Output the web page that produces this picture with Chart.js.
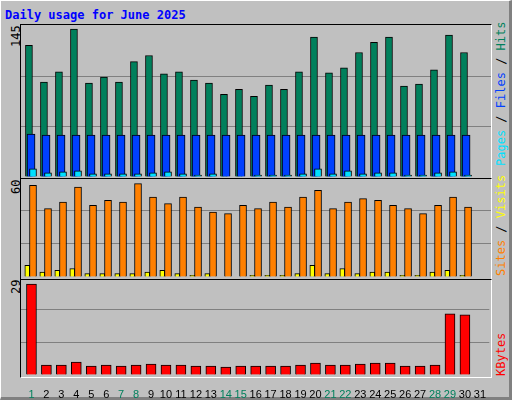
<!DOCTYPE html>
<html><head><meta charset="utf-8">
<script src="https://cdn.jsdelivr.net/npm/chart.js@4"></script>
<style>
body{margin:0;width:512px;height:400px;overflow:hidden;background:#fff}
#f{position:absolute;left:0;top:0;width:508px;height:396px;background:#C0C0C0;border-top:1px solid #fff;border-left:1px solid #fff;border-right:3px solid #808080;border-bottom:3px solid #808080;outline:1px solid #000}
.t{position:absolute;font-family:"DejaVu Sans Mono",monospace;font-size:12px;white-space:nowrap}
.r{transform-origin:0 0;transform:rotate(-90deg)}
.p{position:absolute;left:20px;width:472px;border:1px solid #000;border-right-color:#fff;border-bottom-color:#fff;box-sizing:border-box}
canvas{position:absolute}
</style></head><body>
<div id="f"></div>
<div class="t" style="left:5px;top:8px;color:#0000FF;font-weight:bold">Daily usage for June 2025</div>
<div class="p" style="top:24px;height:155px"></div>
<div class="p" style="top:178px;height:102px"></div>
<div class="p" style="top:279px;height:99px"></div>
<div class="t r" style="left:9px;top:47px">145</div>
<div class="t r" style="left:9px;top:194px">60</div>
<div class="t r" style="left:9px;top:294px">29</div>
<div class="t r" style="left:494px;top:166px"><span style="color:#00E0FF">Pages</span> / <span style="color:#0040FF">Files</span> / <span style="color:#00805C">Hits</span></div>
<div class="t r" style="left:494px;top:276px"><span style="color:#FF8000">Sites</span> / <span style="color:#FFFF00">Visits</span></div>
<div class="t r" style="left:494px;top:376px"><span style="color:#FF0000">KBytes</span></div>
<canvas id="c1" style="left:21px;top:26px;width:470px;height:151px"></canvas>
<canvas id="c2" style="left:21px;top:177px;width:470px;height:100px"></canvas>
<canvas id="c3" style="left:21px;top:276px;width:470px;height:124px"></canvas>
<script>
const days=[1,2,3,4,5,6,7,8,9,10,11,12,13,14,15,16,17,18,19,20,21,22,23,24,25,26,27,28,29,30,31];
const weekend=[1,7,8,14,15,21,22,28,29];
const hits=[129,93,103,145,92,98,93,113,119,101,103,95,92,81,86,79,90,86,103,137,102,107,122,132,137,89,91,105,139,122,0];
const files=[42,41,41,41,41,41,41,41,41,41,41,41,41,41,41,41,41,41,41,41,41,41,41,41,41,41,41,41,41,41,0];
const pages=[8,4,5,6,3,3,3,3,4,5,3,2,3,0,0,2,2,2,3,8,3,6,3,4,4,2,2,4,5,2,0];
const visits=[55,41,45,54,43,46,45,56,48,44,48,42,39,38,43,41,45,42,48,52,41,45,47,46,43,41,38,43,48,42,0];
const sites=[7,3,4,5,2,2,2,2,3,4,2,1,2,0,0,1,1,1,2,7,2,5,2,3,3,1,1,3,4,1,0];
const kbytes=[26.6,2.9,2.9,3.8,2.6,2.9,2.6,2.9,3.2,2.9,2.9,2.6,2.6,2.3,2.6,2.6,2.6,2.6,2.9,3.5,2.9,2.9,3.2,3.5,3.5,2.6,2.6,2.9,17.9,17.6,0];
const maxH=145,maxV=60,maxK=29;
const tickFont={family:'Liberation Sans',size:11};
function ds(vals,off,color,w,order){return{data:vals.map((v,i)=>({x:days[i]+off,y:v})).filter(p=>p.y>0),backgroundColor:color,borderColor:'#000',borderWidth:1,barThickness:w,order:order,grouped:false,borderSkipped:'bottom'};}
function mk(id,sets,max,showX){
 new Chart(document.getElementById(id),{type:'bar',data:{datasets:sets},
 options:{responsive:false,animation:false,events:[],layout:{padding:0},plugins:{legend:{display:false},tooltip:{enabled:false}},
 scales:{x:{type:'linear',min:0.3,max:31.63,offset:false,display:showX,grid:{display:false},border:{display:false},
   afterBuildTicks:a=>{a.ticks=days.map(d=>({value:d}));},afterFit:a=>{if(showX)a.height=25},
   ticks:{autoSkip:false,maxRotation:0,padding:5,font:tickFont,color:c=>weekend.includes(c.tick.value)?'#00805C':'#000',callback:v=>String(v)}},
  y:{min:0,max:max,afterFit:a=>{a.width=0},afterBuildTicks:a=>{a.ticks=[0,max/3,2*max/3,max].map(v=>({value:v}));},
   ticks:{display:false},border:{display:false},grid:{color:c=>(c.index==1||c.index==2)?'#808080':'rgba(0,0,0,0)',lineWidth:1}}}}});
}
const setW=(id,h)=>{const c=document.getElementById(id);c.width=470;c.height=h;};
setW('c1',151);setW('c2',100);setW('c3',124);
mk('c1',[ds(hits,-0.17,'#00805C',7,3),ds(files,-0.03,'#0040FF',8,2),ds(pages,0.1,'#00E0FF',7,1)],maxH*151/148,false);
mk('c2',[ds(sites,-0.28,'#FFFF00',5,2),ds(visits,0.1,'#FF8000',7,1)],maxV,false);
mk('c3',[ds(kbytes,0,'#FF0000',10,1)],maxK,true);
</script>
</body></html>
